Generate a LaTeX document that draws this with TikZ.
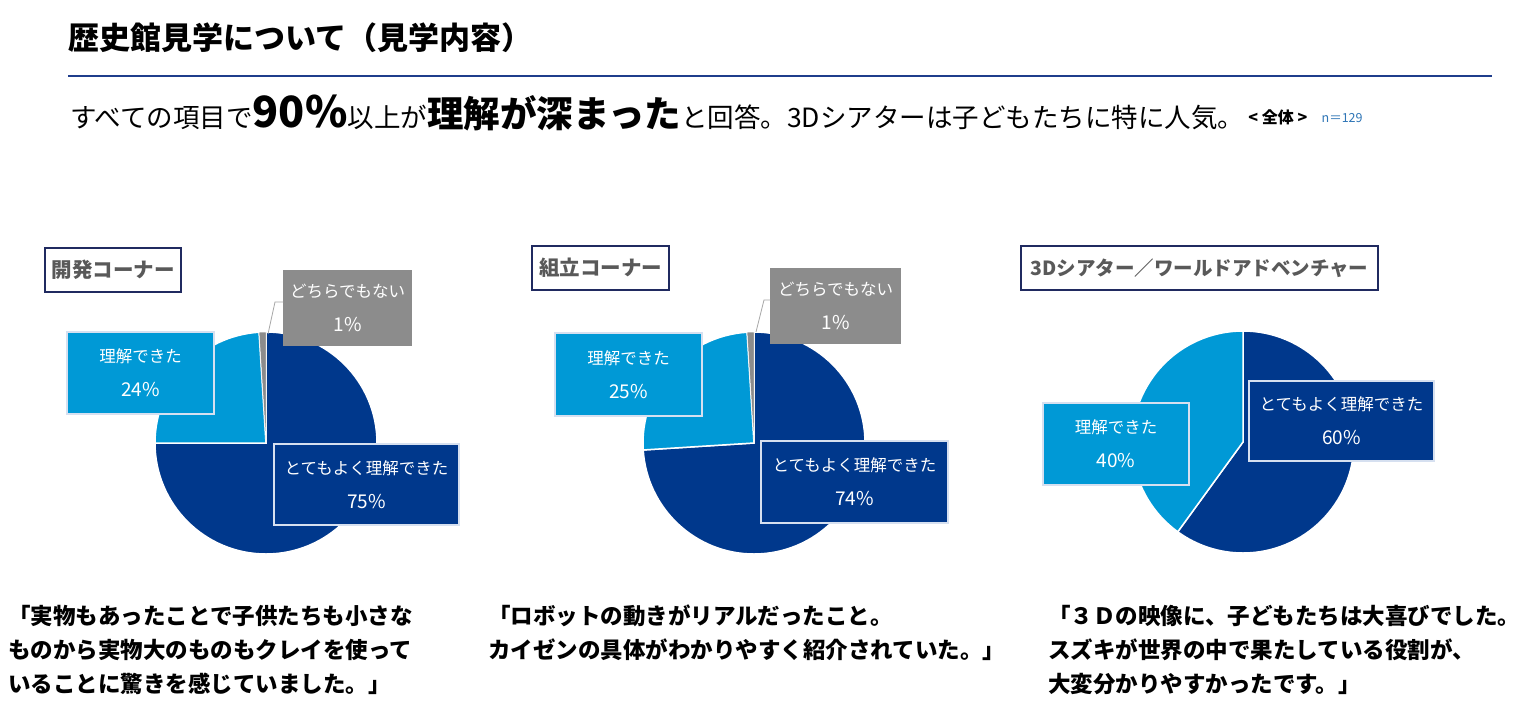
\documentclass[tikz,border=0pt]{standalone}
\usepackage{fontspec}
\setmainfont{Noto Sans CJK JP}
\usetikzlibrary{positioning}

\definecolor{deepblue}{RGB}{0,56,140}
\definecolor{skyblue}{RGB}{0,153,214}
\definecolor{midgray}{RGB}{140,140,140}
\definecolor{ruleblue}{RGB}{31,61,140}
\definecolor{boxnavy}{RGB}{32,42,96}
\definecolor{titlegray}{RGB}{89,89,89}
\definecolor{labelrim}{RGB}{214,224,240}
\definecolor{leadergray}{RGB}{166,166,166}
\definecolor{nblue}{RGB}{46,117,182}

\newcommand{\pieshare}[1]{{\fontsize{19}{34}\selectfont #1\%}}

\tikzset{
  slicedeep/.style={fill=deepblue,draw=white,line width=1.5pt},
  slicesky/.style={fill=skyblue,draw=white,line width=1.5pt},
  slicegray/.style={fill=midgray,draw=white,line width=0.5pt},
  pielabel/.style={draw=labelrim,line width=1.2pt,text=white,align=center,
    inner sep=0pt,font=\fontsize{16.5}{34}\selectfont},
  cornerbox/.style={draw=boxnavy,line width=1.2pt,fill=white,text=titlegray,
    inner sep=0pt,minimum height=44pt,font=\bfseries\fontsize{20.5}{24}\selectfont},
  quotetext/.style={anchor=north west,align=left,inner sep=0pt,
    font=\bfseries\fontsize{22.5}{34}\selectfont},
  leader/.style={draw=leadergray,line width=0.8pt}
}

\begin{document}
\begin{tikzpicture}[x=1pt,y=-1pt]
\useasboundingbox (0,0) rectangle (1539,712);
\fill[white] (0,0) rectangle (1539,712);

% Kopfzeile
\node[anchor=base west,inner sep=0pt,font=\bfseries\fontsize{31}{34}\selectfont] (title) at (68,49) {歴史館見学について（見学内容）};
\draw[ruleblue,line width=2.2pt] (68,76) -- (1492,76);
\node[anchor=base west,inner sep=0pt,font=\fontsize{26.5}{30}\selectfont] (lead) at (70,127) {すべての項目で{\bfseries\fontsize{43}{44}\selectfont 90\%}以上が{\bfseries\fontsize{36.5}{40}\selectfont 理解が深まった}と回答。3Dシアターは子どもたちに特に人気。};
\node[anchor=base west,inner sep=0pt,font=\bfseries\fontsize{16}{18}\selectfont] (whole) at ([xshift=4pt,yshift=4pt]lead.base east) {<\ 全体\ >};
\node[anchor=base west,inner sep=0pt,text=nblue,font=\fontsize{12.5}{14}\selectfont] (count) at ([xshift=14pt,yshift=1pt]whole.base east) {n＝129};

% Kreis 1: Entwicklung
\node[cornerbox,minimum width=136pt] (corner1) at (113,270) {開発コーナー};
\fill[slicedeep] (266,443) -- ++(-90:111) arc[start angle=-90,end angle=180,radius=111] -- cycle;
\fill[slicesky] (266,443) -- ++(180:111) arc[start angle=180,end angle=266.4,radius=111] -- cycle;
\fill[slicegray] (266,443) -- ++(266.4:111) arc[start angle=266.4,end angle=270,radius=111] -- cycle;
\node[pielabel,fill=skyblue,minimum width=147pt,minimum height=82pt] (sky1) at (140.5,373) {理解できた\\\pieshare{24}};
\node[pielabel,fill=deepblue,minimum width=185pt,minimum height=81pt] (deep1) at (366.5,484.5) {とてもよく理解できた\\\pieshare{75}};
\node[pielabel,fill=midgray,draw=midgray,minimum width=127pt,minimum height=74pt] (gray1) at (347.5,308) {どちらでもない\\\pieshare{1}};
\coordinate (bend1) at (275,302);
\coordinate (tip1) at (268,334);
\draw[leader] (gray1.west |- bend1) -- (bend1) -- (tip1);

% Kreis 2: Montage
\node[cornerbox,minimum width=137pt] (corner2) at (600.5,268) {組立コーナー};
\fill[slicedeep] (754,443) -- ++(-90:111) arc[start angle=-90,end angle=176.4,radius=111] -- cycle;
\fill[slicesky] (754,443) -- ++(176.4:111) arc[start angle=176.4,end angle=266.4,radius=111] -- cycle;
\fill[slicegray] (754,443) -- ++(266.4:111) arc[start angle=266.4,end angle=270,radius=111] -- cycle;
\node[pielabel,fill=skyblue,minimum width=147pt,minimum height=83pt] (sky2) at (628.5,374.5) {理解できた\\\pieshare{25}};
\node[pielabel,fill=deepblue,minimum width=187pt,minimum height=82pt] (deep2) at (854.5,482) {とてもよく理解できた\\\pieshare{74}};
\node[pielabel,fill=midgray,draw=midgray,minimum width=129pt,minimum height=74pt] (gray2) at (835.5,306) {どちらでもない\\\pieshare{1}};
\coordinate (bend2) at (764,300);
\coordinate (tip2) at (756,332);
\draw[leader] (gray2.west |- bend2) -- (bend2) -- (tip2);

% Kreis 3: Theater
\node[cornerbox,minimum width=357pt,font=\bfseries\fontsize{19.5}{24}\selectfont] (corner3) at (1199.5,268) {3Dシアター／ワールドアドベンチャー};
\fill[slicedeep] (1243,442) -- ++(-90:111) arc[start angle=-90,end angle=126,radius=111] -- cycle;
\fill[slicesky] (1243,442) -- ++(126:111) arc[start angle=126,end angle=270,radius=111] -- cycle;
\node[pielabel,fill=deepblue,minimum width=185pt,minimum height=80pt] (deep3) at (1341.5,421) {とてもよく理解できた\\\pieshare{60}};
\node[pielabel,fill=skyblue,minimum width=146pt,minimum height=82pt] (sky3) at (1116,444) {理解できた\\\pieshare{40}};

% Stimmen
\node[quotetext] (voice1) at (8,605) {「実物もあったことで子供たちも小さな\\ものから実物大のものもクレイを使って\\いることに驚きを感じていました。」};
\node[quotetext] (voice2) at (488,605) {「ロボットの動きがリアルだったこと。\\カイゼンの具体がわかりやすく紹介されていた。」};
\node[quotetext] (voice3) at (1048,605) {「３Ｄの映像に、子どもたちは大喜びでした。\\スズキが世界の中で果たしている役割が、\\大変分かりやすかったです。」};
\end{tikzpicture}
\end{document}
